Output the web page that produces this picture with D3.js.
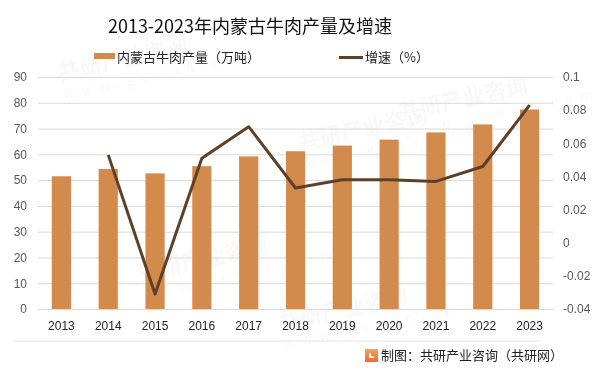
<!DOCTYPE html>
<html lang="zh">
<head>
<meta charset="UTF-8">
<title>2013-2023年内蒙古牛肉产量及增速</title>
<script src="https://d3js.org/d3.v7.min.js"></script>
<style>
  body { margin: 0; background: #fff; }
  text { font-family: "Noto Sans CJK SC", "Noto Sans", sans-serif; }
</style>
</head>
<body>
<svg id="chart" width="600" height="374"></svg>
<script>
// data
const years = ["2013","2014","2015","2016","2017","2018","2019","2020","2021","2022","2023"];
const output = [51.5, 54.3, 52.6, 55.4, 59.2, 61.2, 63.4, 65.7, 68.5, 71.6, 77.4];
const growth = [null, 0.053, -0.031, 0.051, 0.070, 0.033, 0.038, 0.038, 0.037, 0.046, 0.083];
const leftTicks = [0, 10, 20, 30, 40, 50, 60, 70, 80, 90];
const rightTicks = [-0.04, -0.02, 0, 0.02, 0.04, 0.06, 0.08, 0.1];

const barColor = "#d28b4d", lineColor = "#5e4028";
const svg = d3.select("#chart");
const plotL = 38, plotR = 553, plotT = 77, plotB = 309;

const x = d3.scaleBand().domain(years).range([plotL, plotR]).paddingInner(0.59).paddingOuter(0.295);
const y = d3.scaleLinear().domain([0, 90]).range([plotB, plotT]);
const y2 = d3.scaleLinear().domain([-0.04, 0.1]).range([plotB, plotT]);

// faint watermarks
const wm = svg.append("g").attr("fill", "#000").attr("opacity", 0.03).attr("font-weight", "bold");
[[60, 80], [140, 280], [300, 150], [280, 330], [400, 120]].forEach(([wx, wy]) => {
  const g = wm.append("g").attr("transform", `translate(${wx},${wy}) rotate(-12)`);
  g.append("text").attr("font-size", 22).text("共研产业咨询");
  g.append("text").attr("y", 20).attr("font-size", 14).attr("font-weight", "normal")
    .attr("letter-spacing", 7).text("www.gonyn.com");
});

// gridlines
svg.append("g")
  .attr("transform", `translate(${plotL},0)`)
  .call(d3.axisLeft(y).tickValues(leftTicks).tickSize(-(plotR - plotL)).tickFormat(""))
  .call(g => g.select(".domain").remove())
  .call(g => g.selectAll("line").attr("stroke", "#d9d9d9").attr("stroke-width", 1));

// bars
svg.append("g").selectAll("rect")
  .data(output).enter()
  .append("rect")
    .attr("x", (d, i) => x(years[i]))
    .attr("width", x.bandwidth())
    .attr("y", d => y(d))
    .attr("height", d => y(0) - y(d))
    .attr("fill", barColor);

// growth line
const line = d3.line()
  .defined(d => d != null)
  .x((d, i) => x(years[i]) + x.bandwidth() / 2)
  .y(d => y2(d));
svg.append("path")
  .datum(growth)
  .attr("d", line)
  .attr("fill", "none")
  .attr("stroke", lineColor)
  .attr("stroke-width", 3)
  .attr("stroke-linejoin", "round");

// axes
const leftAxis = svg.append("g")
  .attr("transform", `translate(${plotL},0)`)
  .call(d3.axisLeft(y).tickValues(leftTicks).tickSize(0).tickPadding(11));
const rightAxis = svg.append("g")
  .attr("transform", `translate(${plotR},0)`)
  .call(d3.axisRight(y2).tickValues(rightTicks).tickSize(0).tickPadding(10).tickFormat(d => String(+d.toFixed(2))));
const xAxis = svg.append("g")
  .attr("transform", `translate(0,${plotB})`)
  .call(d3.axisBottom(x).tickSize(0).tickPadding(12));
[leftAxis, rightAxis].forEach(a => {
  a.select(".domain").remove();
  a.selectAll("text").attr("font-size", 12).attr("fill", "#595959").style("font-family", "Liberation Sans, sans-serif");
});
xAxis.select(".domain").attr("stroke", "#d9d9d9");
xAxis.selectAll("text").attr("font-size", 12).attr("fill", "#222").style("font-family", "Liberation Sans, sans-serif");

// title
svg.append("text").attr("x", 250).attr("y", 33).attr("text-anchor", "middle")
  .attr("font-size", 18).attr("fill", "#111").text("2013-2023年内蒙古牛肉产量及增速");

// legend
svg.append("rect").attr("x", 94).attr("y", 53).attr("width", 21).attr("height", 6).attr("fill", barColor);
svg.append("text").attr("x", 117).attr("y", 61.5).attr("font-size", 13).attr("fill", "#222").text("内蒙古牛肉产量（万吨）");
svg.append("line").attr("x1", 339).attr("x2", 363).attr("y1", 57.5).attr("y2", 57.5)
  .attr("stroke", lineColor).attr("stroke-width", 3);
svg.append("text").attr("x", 365).attr("y", 61.5).attr("font-size", 13).attr("fill", "#222").text("增速（%）");

// bottom frame line and source
svg.append("line").attr("x1", 14).attr("x2", 540).attr("y1", 341).attr("y2", 341)
  .attr("stroke", "#e6e6e6").attr("stroke-width", 1);
const grad = svg.append("defs").append("linearGradient").attr("id", "logoGrad")
  .attr("x1", 0).attr("y1", 0).attr("x2", 0).attr("y2", 1);
grad.append("stop").attr("offset", 0).attr("stop-color", "#f7a35c");
grad.append("stop").attr("offset", 1).attr("stop-color", "#ee6a2b");
svg.append("path")
  .attr("d", "M365,349 h13 v4 h-9 v5 h5 v-2 h-3 v-3 h7 v9 h-13 z")
  .attr("fill", "url(#logoGrad)");
svg.append("text").attr("x", 381).attr("y", 360).attr("font-size", 13).attr("fill", "#222")
  .text("制图：共研产业咨询（共研网）");
</script>
</body>
</html>
